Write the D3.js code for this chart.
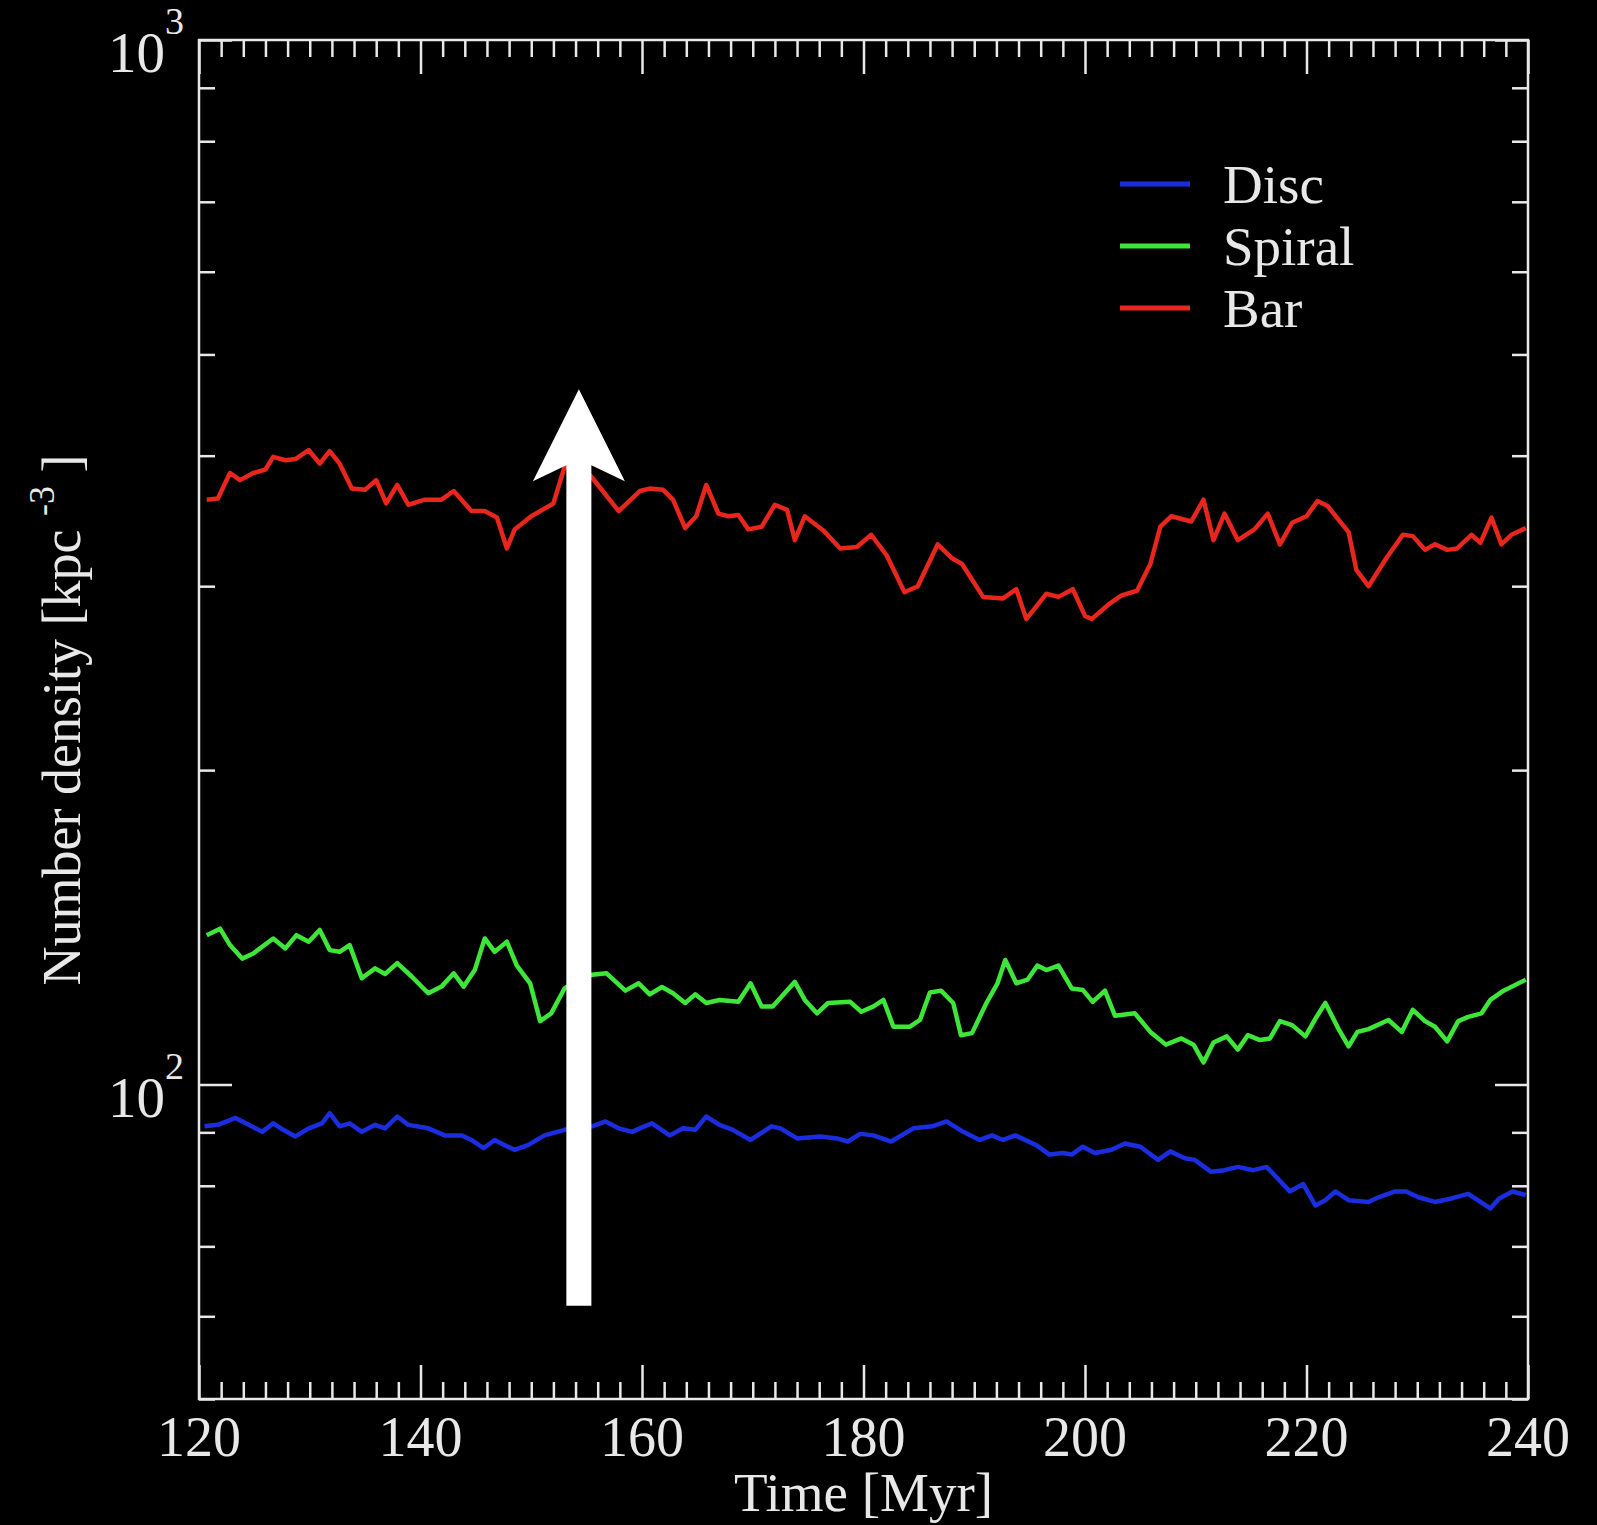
<!DOCTYPE html>
<html>
<head>
<meta charset="utf-8">
<script src="https://cdn.jsdelivr.net/npm/d3@7"></script>
<style>
  html, body { margin: 0; padding: 0; background: #000; }
  svg { display: block; }
</style>
</head>
<body>
<div id="chart"></div>
<script>
// series: [time in Myr, number density in kpc^-3]
const discData = [[120.5,91.2],[121.7,91.5],[123.3,92.9],[124.5,91.5],[125.7,90.1],[126.7,91.8],[127.6,90.5],[128.7,89.2],[129.9,90.8],[131.1,91.8],[131.8,93.9],[132.7,91.2],[133.6,91.8],[134.7,90.1],[135.9,91.5],[136.8,90.8],[137.9,93.2],[138.9,91.5],[140.7,90.8],[142.2,89.4],[143.7,89.4],[144.6,88.5],[145.7,86.9],[146.7,88.5],[147.6,87.5],[148.5,86.6],[149.7,87.5],[151.2,89.4],[153.0,90.5],[154.3,91.0],[155.5,91.2],[156.7,92.2],[157.9,90.8],[159.1,90.1],[160.0,91.0],[160.9,91.8],[162.5,89.4],[163.7,90.8],[164.8,90.5],[165.8,93.2],[167.0,91.5],[168.2,90.5],[169.8,88.5],[171.7,91.2],[172.5,90.8],[174.0,88.8],[176.1,89.2],[177.6,88.8],[178.6,88.2],[179.7,89.7],[180.9,89.4],[182.5,88.2],[184.5,90.8],[186.2,91.2],[187.5,92.2],[189.0,90.1],[190.5,88.5],[191.6,89.4],[192.6,88.5],[193.7,89.4],[195.6,87.5],[196.8,85.7],[198.0,86.0],[198.8,85.7],[199.8,87.2],[200.9,86.0],[202.4,86.6],[203.6,87.8],[205.0,87.2],[206.6,84.7],[207.7,86.3],[209.0,85.0],[209.9,84.7],[211.4,82.5],[212.6,82.8],[213.8,83.4],[215.2,82.8],[216.4,83.4],[217.4,81.3],[218.5,79.0],[219.7,80.3],[220.8,76.6],[221.7,77.5],[222.6,79.0],[223.8,77.5],[225.6,77.2],[226.5,78.0],[228.0,79.0],[229.0,79.0],[230.1,78.0],[231.6,77.2],[233.1,77.8],[234.6,78.6],[235.7,77.2],[236.6,76.1],[237.4,77.8],[238.6,79.0],[239.8,78.4]];

const spiralData = [[120.7,139],[121.9,141],[122.8,136],[123.9,132],[124.9,133.5],[126.7,138],[127.8,135],[128.8,139],[129.9,137],[130.9,140.6],[131.8,134.5],[132.7,134],[133.6,136],[134.7,126.4],[135.9,129.2],[136.8,127.6],[137.9,130.7],[139.2,126.9],[140.7,122.3],[141.9,124.1],[143.0,127.8],[143.9,124.1],[144.9,128.7],[145.8,138],[146.7,134],[147.8,137],[148.7,130],[149.9,125],[150.8,115],[151.8,117],[153.0,123.6],[154.3,126],[155.5,127.4],[156.8,127.8],[158.5,123],[159.7,125],[160.7,122],[161.8,124],[162.8,122.3],[163.9,119.7],[164.8,122],[165.8,119.7],[167.0,120.5],[168.7,120],[169.8,125],[170.8,118.8],[171.8,118.8],[173.8,125.4],[174.7,120.5],[175.8,117],[176.8,119.7],[178.8,120],[179.8,117.4],[180.9,118.8],[181.8,120.5],[182.7,113.6],[184.2,113.6],[185.1,115.3],[186.0,122.5],[187.0,123],[188.1,119.7],[188.8,111.5],[189.8,112],[191.1,119.7],[192.1,125],[192.8,131.6],[193.8,125],[194.8,126],[195.7,130],[196.5,128.7],[197.6,130],[198.8,123.6],[199.8,123.2],[200.7,120],[201.8,123],[202.7,116.4],[204.5,117],[205.9,112.3],[207.3,109.2],[208.7,110.7],[209.8,109.2],[210.7,105],[211.6,109.7],[212.8,111.2],[213.8,108],[214.7,111.5],[215.8,110.3],[216.7,110.7],[217.6,115],[218.7,114],[219.9,111.2],[220.8,115.6],[221.7,119.7],[222.9,113],[223.8,108.8],[224.6,112.3],[225.6,113],[227.4,115.3],[228.6,112.3],[229.6,117.9],[230.7,115],[231.6,113.6],[232.7,110],[233.7,115],[234.6,116.1],[235.8,117],[236.6,120.5],[237.8,123],[239.8,126]];

const barData = [[120.7,363],[121.7,364],[122.8,385],[123.7,379],[124.9,385],[126.0,388],[126.7,399],[127.8,396],[128.7,397],[129.9,405],[130.9,393],[131.8,404],[132.7,393],[133.8,372],[135.0,371],[136.0,379],[136.9,360],[137.9,375],[138.9,359],[140.4,363],[141.9,363],[143.0,370],[144.6,354],[145.8,354],[146.9,349],[147.8,326],[148.5,340],[150.0,350],[152.0,360],[153.0,390],[154.3,394],[155.5,381],[157.9,354],[159.8,370],[160.7,372],[161.9,371],[162.8,363],[163.9,341],[164.9,350],[165.8,375],[166.9,352],[167.8,350],[168.7,351],[169.6,340],[170.8,342],[172.0,359],[173.1,355],[173.8,332],[174.7,350],[176.4,339],[177.9,326],[179.4,327],[180.7,336],[182.1,321],[183.7,296],[184.9,300],[186.7,329],[188.0,319],[188.9,315],[190.8,293],[192.6,292],[193.8,298],[194.7,279],[196.5,295],[197.6,293],[198.9,298],[200.0,281],[200.6,279],[202.1,288],[203.3,294],[204.7,297],[205.9,315],[206.8,342],[207.8,350],[209.6,346],[210.7,363],[211.6,332],[212.6,352],[213.8,332],[215.3,340],[216.5,352],[217.6,329],[218.7,345],[220.0,350],[221.0,362],[221.9,358],[223.8,338],[224.5,311],[225.6,300],[227.2,319],[228.7,336],[229.6,335],[230.7,325],[231.6,329],[232.7,325],[233.6,326],[234.9,336],[235.7,330],[236.7,349],[237.6,329],[238.5,336],[239.8,341]];

const seriesNames = ['Disc', 'Spiral', 'Bar'];
const seriesColors = ['#1a2ee0', '#3ee63a', '#e8261e'];

const xMajorTicks = [120, 140, 160, 180, 200, 220, 240];
const yMajorTicks = [100, 1000];
const yTickExponents = ['2', '3'];

// the white arrow marking t ~ 154 Myr
const arrowTime = 154.3;
const arrowFrom = 61.4;
const arrowTo = 463;

const width = 1597, height = 1525;
const margin = { top: 40, right: 69, bottom: 126, left: 199 };
const innerW = width - margin.left - margin.right;
const innerH = height - margin.top - margin.bottom;
const fg = '#e8e8e8';
const font = '"Liberation Serif", "DejaVu Serif", "Times New Roman", serif';

const svg = d3.select('#chart').append('svg')
    .attr('width', width)
    .attr('height', height)
    .style('background', '#000');

const chart = svg.append('g')
    .attr('transform', `translate(${margin.left}, ${margin.top})`);

const x = d3.scaleLinear().domain([120, 240]).range([0, innerW]);
const y = d3.scaleLog().domain([50, 1000]).range([innerH, 0]);

// data lines
const line = d3.line().x(d => x(d[0])).y(d => y(d[1]));
[discData, spiralData, barData].forEach((data, i) => {
    chart.append('path')
        .datum(data)
        .attr('fill', 'none')
        .attr('stroke', seriesColors[i])
        .attr('stroke-width', 4.5)
        .attr('stroke-linejoin', 'round')
        .attr('d', line);
});

// axes: ticks point inward on all four sides
const xMinor = d3.range(120, 241, 2).filter(t => t % 20 !== 0);
const yMinor = y.ticks().filter(v => !yMajorTicks.includes(v));

function styleAxis(g) {
    g.select('.domain').remove();
    g.selectAll('.tick line').attr('stroke', fg).attr('stroke-width', 2.5);
    g.selectAll('.tick text').remove();
}

chart.append('g').attr('transform', `translate(0, ${innerH})`)
    .call(d3.axisBottom(x).tickValues(xMinor).tickSize(-17)).call(styleAxis);
chart.append('g').attr('transform', `translate(0, ${innerH})`)
    .call(d3.axisBottom(x).tickValues(xMajorTicks).tickSize(-34)).call(styleAxis);
chart.append('g')
    .call(d3.axisTop(x).tickValues(xMinor).tickSize(-17)).call(styleAxis);
chart.append('g')
    .call(d3.axisTop(x).tickValues(xMajorTicks).tickSize(-34)).call(styleAxis);
chart.append('g')
    .call(d3.axisLeft(y).tickValues(yMinor).tickSize(-16)).call(styleAxis);
chart.append('g')
    .call(d3.axisLeft(y).tickValues(yMajorTicks).tickSize(-33)).call(styleAxis);
chart.append('g').attr('transform', `translate(${innerW}, 0)`)
    .call(d3.axisRight(y).tickValues(yMinor).tickSize(-16)).call(styleAxis);
chart.append('g').attr('transform', `translate(${innerW}, 0)`)
    .call(d3.axisRight(y).tickValues(yMajorTicks).tickSize(-33)).call(styleAxis);

chart.append('rect')
    .attr('width', innerW)
    .attr('height', innerH)
    .attr('fill', 'none')
    .attr('stroke', fg)
    .attr('stroke-width', 2.5);

// tick labels
chart.selectAll('.xlabel')
    .data(xMajorTicks)
    .join('text')
    .attr('x', d => x(d))
    .attr('y', innerH + 57)
    .attr('text-anchor', 'middle')
    .attr('fill', fg)
    .style('font-family', font)
    .style('font-size', '56px')
    .text(d => d);

yMajorTicks.forEach((v, i) => {
    const t = chart.append('text')
        .attr('x', -15)
        .attr('y', y(v) + 32)
        .attr('text-anchor', 'end')
        .attr('fill', fg)
        .style('font-family', font)
        .style('font-size', '57px');
    t.append('tspan').text('10');
    t.append('tspan')
        .attr('dy', -38)
        .style('font-size', '38px')
        .text(yTickExponents[i]);
});

// axis titles
svg.append('text')
    .attr('x', margin.left + innerW / 2)
    .attr('y', 1511)
    .attr('text-anchor', 'middle')
    .attr('fill', fg)
    .style('font-family', font)
    .style('font-size', '55px')
    .text('Time [Myr]');

const ylab = svg.append('text')
    .attr('transform', 'translate(80, 720) rotate(-90)')
    .attr('text-anchor', 'middle')
    .attr('fill', fg)
    .style('font-family', font)
    .style('font-size', '54px');
ylab.append('tspan').text('Number density [kpc ');
ylab.append('tspan').attr('dy', -26).style('font-size', '36px').text('-3');
ylab.append('tspan').attr('dy', 26).text(' ]');

// legend
const legend = svg.append('g').attr('transform', 'translate(1120, 184)');
seriesNames.forEach((name, i) => {
    const row = legend.append('g').attr('transform', `translate(0, ${i * 62})`);
    row.append('line')
        .attr('x1', 0).attr('x2', 70)
        .attr('stroke', seriesColors[i])
        .attr('stroke-width', 5);
    row.append('text')
        .attr('x', 103)
        .attr('y', 19)
        .attr('fill', fg)
        .style('font-family', font)
        .style('font-size', '55px')
        .text(name);
});

// arrow annotation
const ax = x(arrowTime), yTip = y(arrowTo), yBase = y(arrowFrom);
const headLen = 92, headHalf = 46, notch = 76, shaftHalf = 12.5;
chart.append('polygon')
    .attr('fill', '#fff')
    .attr('points', [
        [ax, yTip],
        [ax + headHalf, yTip + headLen],
        [ax + shaftHalf, yTip + notch],
        [ax + shaftHalf, yBase],
        [ax - shaftHalf, yBase],
        [ax - shaftHalf, yTip + notch],
        [ax - headHalf, yTip + headLen]
    ].map(p => p.join(',')).join(' '));
</script>
</body>
</html>
